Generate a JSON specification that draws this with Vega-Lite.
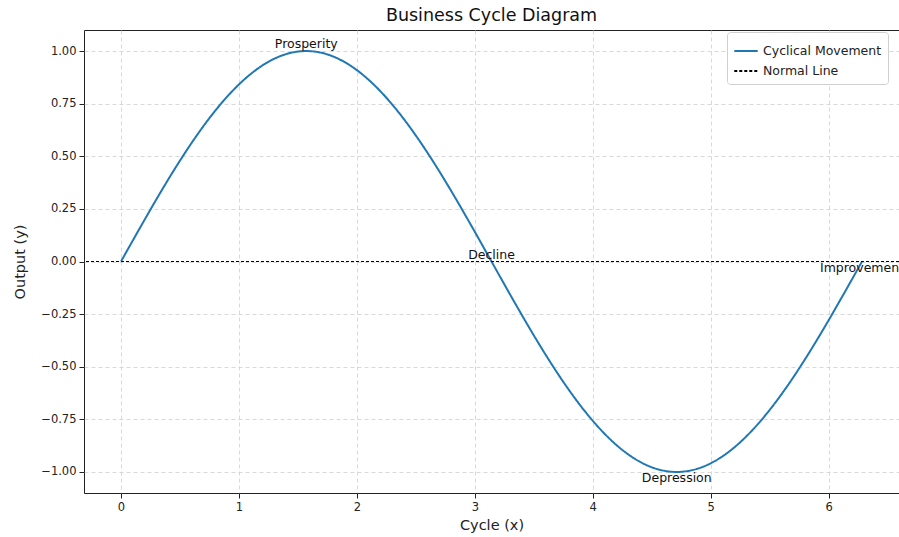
{
  "$schema": "https://vega.github.io/schema/vega-lite/v6.json",
  "autosize": "none",
  "width": 815,
  "height": 463,
  "padding": {"left": 84, "top": 30, "right": 0, "bottom": 44},
  "background": "white",
  "config": {
    "font": "DejaVu Sans",
    "view": {"stroke": "#222", "strokeWidth": 1},
    "axis": {
      "domain": false,
      "labelFont": "DejaVu Sans",
      "labelFontSize": 11.5,
      "labelColor": "#222",
      "tickColor": "#222",
      "tickSize": 5,
      "titleFont": "DejaVu Sans",
      "titleFontSize": 14.5,
      "titleFontWeight": "normal",
      "titleColor": "#222",
      "gridColor": "#cfcfcf",
      "gridDash": [4, 3],
      "gridWidth": 0.8
    }
  },
  "title": {
    "text": "Business Cycle Diagram",
    "font": "DejaVu Sans",
    "fontSize": 17.5,
    "fontWeight": "normal",
    "color": "#111",
    "anchor": "middle",
    "offset": 6
  },
  "layer": [
    {
      "data": {"values": [
        {"x": 0, "y": 0, "series": "Cyclical Movement"},
        {"x": 0.1571, "y": 0.1564, "series": "Cyclical Movement"},
        {"x": 0.3142, "y": 0.309, "series": "Cyclical Movement"},
        {"x": 0.4712, "y": 0.454, "series": "Cyclical Movement"},
        {"x": 0.6283, "y": 0.5878, "series": "Cyclical Movement"},
        {"x": 0.7854, "y": 0.7071, "series": "Cyclical Movement"},
        {"x": 0.9425, "y": 0.809, "series": "Cyclical Movement"},
        {"x": 1.0996, "y": 0.891, "series": "Cyclical Movement"},
        {"x": 1.2566, "y": 0.9511, "series": "Cyclical Movement"},
        {"x": 1.4137, "y": 0.9877, "series": "Cyclical Movement"},
        {"x": 1.5708, "y": 1.0, "series": "Cyclical Movement"},
        {"x": 1.7279, "y": 0.9877, "series": "Cyclical Movement"},
        {"x": 1.885, "y": 0.9511, "series": "Cyclical Movement"},
        {"x": 2.042, "y": 0.891, "series": "Cyclical Movement"},
        {"x": 2.1991, "y": 0.809, "series": "Cyclical Movement"},
        {"x": 2.3562, "y": 0.7071, "series": "Cyclical Movement"},
        {"x": 2.5133, "y": 0.5878, "series": "Cyclical Movement"},
        {"x": 2.6704, "y": 0.454, "series": "Cyclical Movement"},
        {"x": 2.8274, "y": 0.309, "series": "Cyclical Movement"},
        {"x": 2.9845, "y": 0.1564, "series": "Cyclical Movement"},
        {"x": 3.1416, "y": 0, "series": "Cyclical Movement"},
        {"x": 3.2987, "y": -0.1564, "series": "Cyclical Movement"},
        {"x": 3.4558, "y": -0.309, "series": "Cyclical Movement"},
        {"x": 3.6128, "y": -0.454, "series": "Cyclical Movement"},
        {"x": 3.7699, "y": -0.5878, "series": "Cyclical Movement"},
        {"x": 3.927, "y": -0.7071, "series": "Cyclical Movement"},
        {"x": 4.0841, "y": -0.809, "series": "Cyclical Movement"},
        {"x": 4.2412, "y": -0.891, "series": "Cyclical Movement"},
        {"x": 4.3982, "y": -0.9511, "series": "Cyclical Movement"},
        {"x": 4.5553, "y": -0.9877, "series": "Cyclical Movement"},
        {"x": 4.7124, "y": -1.0, "series": "Cyclical Movement"},
        {"x": 4.8695, "y": -0.9877, "series": "Cyclical Movement"},
        {"x": 5.0265, "y": -0.9511, "series": "Cyclical Movement"},
        {"x": 5.1836, "y": -0.891, "series": "Cyclical Movement"},
        {"x": 5.3407, "y": -0.809, "series": "Cyclical Movement"},
        {"x": 5.4978, "y": -0.7071, "series": "Cyclical Movement"},
        {"x": 5.6549, "y": -0.5878, "series": "Cyclical Movement"},
        {"x": 5.8119, "y": -0.454, "series": "Cyclical Movement"},
        {"x": 5.969, "y": -0.309, "series": "Cyclical Movement"},
        {"x": 6.1261, "y": -0.1564, "series": "Cyclical Movement"},
        {"x": 6.2832, "y": 0, "series": "Cyclical Movement"}
      ]},
      "mark": {"type": "line", "interpolate": "monotone", "strokeWidth": 2},
      "encoding": {
        "x": {
          "field": "x", "type": "quantitative",
          "scale": {"domain": [-0.314, 6.597], "nice": false, "zero": false},
          "axis": {"title": "Cycle (x)", "values": [0, 1, 2, 3, 4, 5, 6], "format": "d", "labelPadding": 3, "titlePadding": 6}
        },
        "y": {
          "field": "y", "type": "quantitative",
          "scale": {"domain": [-1.1, 1.1], "nice": false, "zero": false},
          "axis": {"title": "Output (y)", "values": [-1, -0.75, -0.5, -0.25, 0, 0.25, 0.5, 0.75, 1], "format": ".2f", "labelPadding": 3, "titlePadding": 13}
        },
        "stroke": {
          "field": "series", "type": "nominal",
          "scale": {"domain": ["Cyclical Movement", "Normal Line"], "range": ["#1f77b4", "#000000"]},
          "legend": {
            "title": null,
            "orient": "none",
            "legendX": 643,
            "legendY": 2,
            "symbolType": "stroke",
            "symbolSize": 550,
            "symbolStrokeWidth": 2,
            "labelFont": "DejaVu Sans",
            "labelFontSize": 12.5,
            "labelColor": "#222",
            "strokeColor": "#d0d0d0",
            "fillColor": "white",
            "cornerRadius": 3,
            "padding": 6,
            "rowPadding": 0
          }
        },
        "strokeDash": {
          "field": "series", "type": "nominal",
          "scale": {"domain": ["Cyclical Movement", "Normal Line"], "range": [[1, 0], [3, 2]]},
          "legend": null
        }
      }
    },
    {
      "data": {"values": [{"y": 0, "series": "Normal Line"}]},
      "mark": {"type": "rule", "strokeWidth": 1},
      "encoding": {
        "y": {"field": "y", "type": "quantitative"},
        "stroke": {"field": "series", "type": "nominal"},
        "strokeDash": {"field": "series", "type": "nominal"}
      }
    },
    {
      "data": {"values": [
        {"x": 1.5708, "y": 1.0, "label": "Prosperity"},
        {"x": 3.1416, "y": 0, "label": "Decline"}
      ]},
      "mark": {"type": "text", "baseline": "bottom", "align": "center", "fontSize": 12.5, "font": "DejaVu Sans", "color": "#111", "dy": 0},
      "encoding": {
        "x": {"field": "x", "type": "quantitative"},
        "y": {"field": "y", "type": "quantitative"},
        "text": {"field": "label"}
      }
    },
    {
      "data": {"values": [
        {"x": 4.7124, "y": -1.0, "label": "Depression"},
        {"x": 6.2832, "y": 0, "label": "Improvement"}
      ]},
      "mark": {"type": "text", "baseline": "top", "align": "center", "fontSize": 12.5, "font": "DejaVu Sans", "color": "#111", "dy": 0},
      "encoding": {
        "x": {"field": "x", "type": "quantitative"},
        "y": {"field": "y", "type": "quantitative"},
        "text": {"field": "label"}
      }
    }
  ]
}
